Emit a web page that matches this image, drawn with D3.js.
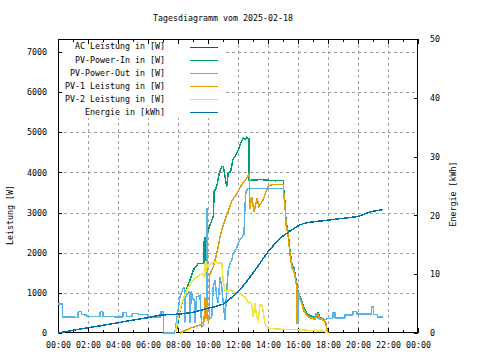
<!DOCTYPE html>
<html>
<head>
<meta charset="utf-8">
<script src="https://cdn.jsdelivr.net/npm/d3@7"></script>
<style>
  body { margin: 0; background: #fff; }
  svg { display: block; font-family: "DejaVu Sans Mono", monospace; font-size: 8.3px; }
</style>
</head>
<body>
<script>
// date of the diagram, all samples are "HH:MM" on that day
const day = "2025-02-18";

const leftTicks = [0, 1000, 2000, 3000, 4000, 5000, 6000, 7000];
const rightTicks = [0, 10, 20, 30, 40, 50];

// PV-Power-Out [W]
const pvOut = [
  ["00:00", 720], ["00:17", 720], ["00:18", 400], ["01:20", 390], ["01:21", 530], ["01:33", 530],
  ["01:34", 460], ["01:55", 450], ["01:56", 410], ["02:48", 410], ["02:49", 530], ["02:59", 530],
  ["03:00", 410], ["04:19", 400], ["04:20", 510], ["04:34", 510], ["04:35", 410], ["04:56", 410],
  ["04:57", 480], ["05:20", 480], ["05:28", 460], ["06:00", 460], ["06:01", 400], ["06:51", 400],
  ["06:52", 520], ["07:01", 520], ["07:02", 0], ["07:47", 0], ["07:50", 120], ["08:08", 900],
  ["08:21", 1120], ["08:26", 1120], ["08:27", 240], ["08:30", 900], ["08:45", 1030], ["08:47", 1030],
  ["08:48", 240], ["08:53", 1030], ["09:01", 820], ["09:07", 820], ["09:08", 240], ["09:15", 900],
  ["09:28", 940], ["09:35", 160], ["09:41", 200], ["09:48", 570], ["09:54", 600], ["09:55", 3100],
  ["09:57", 3100], ["09:59", 320], ["10:15", 400], ["10:21", 1150], ["10:28", 1320], ["10:35", 900],
  ["10:41", 740], ["10:48", 1400], ["10:55", 1150], ["11:01", 740], ["11:08", 320], ["11:15", 1070],
  ["11:21", 1570], ["11:28", 1730], ["11:35", 1820], ["11:41", 1990], ["11:52", 2070], ["12:01", 2240],
  ["12:08", 2320], ["12:24", 2450], ["12:28", 3180], ["12:32", 3530], ["12:41", 3600], ["15:01", 3600],
  ["15:03", 3480], ["15:08", 3220], ["15:12", 2730], ["15:20", 2490], ["15:28", 1990], ["15:36", 1650],
  ["15:44", 1570], ["15:51", 1320], ["15:56", 1150], ["16:00", 990], ["16:01", 280], ["16:02", 280],
  ["16:03", 990], ["16:08", 860], ["16:16", 740], ["16:24", 570], ["16:36", 450], ["16:48", 400],
  ["17:08", 365], ["17:12", 490], ["17:20", 490], ["17:21", 370], ["17:48", 330], ["18:00", 365],
  ["18:19", 365], ["18:20", 500], ["18:28", 500], ["18:29", 370], ["19:07", 370], ["19:08", 450],
  ["19:39", 450], ["19:40", 530], ["19:55", 530], ["19:56", 470], ["20:53", 470], ["20:54", 650],
  ["21:02", 650], ["21:03", 460], ["21:18", 460], ["21:19", 400], ["21:39", 400]
];

// AC Leistung [W] - runs underneath PV-Power-Out in the reference
const acPower = pvOut;

// PV-Power-In [W]
const pvIn = [
  ["07:48", 0], ["07:56", 120], ["08:08", 570], ["08:28", 990], ["08:48", 1320], ["09:01", 1570],
  ["09:21", 1730], ["09:43", 1730], ["09:44", 2300], ["09:46", 1750], ["09:48", 2400], ["09:50", 1800],
  ["09:52", 2400], ["09:54", 1850], ["09:56", 2450], ["10:01", 2560], ["10:08", 2690], ["10:21", 2900],
  ["10:25", 3520], ["10:35", 3650], ["10:45", 3980], ["10:55", 4150], ["11:01", 4150], ["11:08", 3900],
  ["11:15", 3650], ["11:21", 3980], ["11:31", 4020], ["11:39", 4310], ["11:48", 4400], ["12:01", 4560],
  ["12:15", 4790], ["12:21", 4850], ["12:28", 4810], ["12:35", 4870], ["12:44", 4830], ["12:45", 3800],
  ["13:30", 3820], ["14:30", 3790], ["15:01", 3800], ["15:03", 3550], ["15:08", 3270], ["15:12", 2780],
  ["15:20", 2540], ["15:28", 2040], ["15:36", 1700], ["15:44", 1620], ["15:51", 1370], ["15:56", 1200],
  ["16:00", 1040], ["16:08", 900], ["16:16", 790], ["16:24", 620], ["16:36", 490], ["16:48", 430],
  ["17:08", 390], ["17:20", 510], ["17:28", 390], ["17:45", 340], ["17:52", 220], ["17:56", 90],
  ["18:00", 0]
];

// PV-1 Leistung [W]
const pv1 = [
  ["08:08", 0], ["08:48", 120], ["09:28", 200], ["09:45", 280], ["09:46", 900], ["09:48", 350],
  ["09:50", 880], ["09:52", 360], ["09:54", 820], ["09:56", 400], ["10:01", 320], ["10:06", 380],
  ["10:07", 1450], ["10:21", 1650], ["10:32", 1900], ["10:41", 2150], ["10:48", 2390], ["10:55", 2570],
  ["11:08", 2820], ["11:21", 3030], ["11:35", 3280], ["11:48", 3400], ["11:57", 3480], ["12:08", 3620],
  ["12:21", 3750], ["12:32", 3830], ["12:45", 3960], ["12:48", 3100], ["12:55", 3390], ["12:59", 3230],
  ["13:04", 3020], ["13:12", 3230], ["13:17", 3350], ["13:23", 3150], ["13:28", 3190], ["13:41", 3320],
  ["13:52", 3520], ["14:01", 3650], ["14:08", 3680], ["14:21", 3700], ["15:01", 3700], ["15:03", 3450],
  ["15:08", 3180], ["15:12", 2700], ["15:20", 2460], ["15:28", 1960], ["15:36", 1620], ["15:44", 1540],
  ["15:51", 1290], ["15:56", 1120], ["15:57", 220], ["15:59", 950], ["16:08", 840], ["16:16", 720],
  ["16:24", 550], ["16:36", 430], ["16:48", 380], ["17:08", 340], ["17:20", 470], ["17:28", 350],
  ["17:45", 310], ["17:52", 200], ["17:56", 80], ["18:00", 0]
];

// PV-2 Leistung [W]
const pv2 = [
  ["07:50", 0], ["08:01", 400], ["08:15", 740], ["08:35", 1070], ["08:55", 1280], ["09:15", 1390],
  ["09:35", 1480], ["09:47", 1400], ["09:48", 1740], ["09:50", 1500], ["09:52", 1720], ["09:54", 1520],
  ["09:56", 1700], ["10:01", 1650], ["10:15", 1740], ["10:28", 1780], ["10:41", 1740], ["10:55", 1740],
  ["11:01", 1280], ["11:08", 1070], ["11:21", 1030], ["11:28", 1070], ["11:41", 1030], ["12:01", 990],
  ["12:15", 950], ["12:28", 900], ["12:35", 820], ["12:41", 740], ["12:48", 790], ["12:55", 700],
  ["13:01", 410], ["13:08", 740], ["13:15", 410], ["13:21", 320], ["13:28", 700], ["13:35", 700],
  ["13:41", 530], ["13:48", 240], ["13:55", 160], ["14:01", 115], ["15:00", 90], ["16:00", 80],
  ["17:00", 60], ["17:40", 50], ["18:00", 0]
];

// Energie [kWh]
const energy = [
  ["00:00", 0], ["01:00", 0.45], ["02:00", 0.9], ["03:00", 1.3], ["04:00", 1.75], ["05:00", 2.2],
  ["06:00", 2.6], ["06:48", 3.05], ["08:00", 3.2], ["09:00", 3.5], ["10:00", 4.2], ["10:30", 4.5],
  ["11:00", 4.9], ["11:20", 5.5], ["12:00", 7.0], ["12:30", 8.5], ["13:00", 10.2], ["13:30", 12.0],
  ["14:00", 13.8], ["14:30", 15.3], ["15:00", 16.5], ["15:30", 17.4], ["16:08", 18.4], ["16:30", 18.7],
  ["17:00", 18.9], ["18:00", 19.2], ["19:00", 19.5], ["20:00", 19.8], ["20:48", 20.6], ["21:39", 21.0]
];

const parseTime = d3.timeParse("%Y-%m-%d %H:%M");
const t = (hm) => parseTime(day + " " + hm);

const width = 480, height = 360;
const plot = { left: 58, right: 418, top: 39, bottom: 333 };

const svg = d3.select("body").append("svg")
  .attr("width", width)
  .attr("height", height);

svg.append("rect").attr("width", width).attr("height", height).attr("fill", "#fff");

const start = t("00:00");
const end = d3.timeDay.offset(start, 1);

const x = d3.scaleTime().domain([start, end]).range([plot.left, plot.right]);
const yW = d3.scaleLinear().domain([0, 7320]).range([plot.bottom, plot.top]);
const yE = d3.scaleLinear().domain([0, 50]).range([plot.bottom, plot.top]);

const majorHours = d3.timeHour.every(2).range(start, d3.timeMinute.offset(end, 1));
const minorHours = d3.timeHour.range(start, d3.timeMinute.offset(end, 1));

// grid
const grid = svg.append("g")
  .attr("stroke", "#a0a0a0")
  .attr("stroke-dasharray", "3,3")
  .attr("shape-rendering", "crispEdges");
grid.selectAll("line.v")
  .data(majorHours.slice(1, -1))
  .enter().append("line")
  .attr("x1", d => Math.round(x(d)) + 0.5).attr("x2", d => Math.round(x(d)) + 0.5)
  .attr("y1", plot.top).attr("y2", plot.bottom);
grid.selectAll("line.h")
  .data(leftTicks.slice(1))
  .enter().append("line")
  .attr("x1", plot.left).attr("x2", plot.right)
  .attr("y1", d => Math.round(yW(d)) + 0.5).attr("y2", d => Math.round(yW(d)) + 0.5);

// opaque key background
svg.append("rect")
  .attr("x", plot.left + 1).attr("y", plot.top + 1)
  .attr("width", 165).attr("height", 78)
  .attr("fill", "#fff");

const noDomain = g => g.select(".domain").remove();

// x axes (bottom with labels, top mirrored)
svg.append("g")
  .attr("transform", "translate(0," + plot.bottom + ")")
  .call(d3.axisBottom(x).tickValues(majorHours).tickFormat(d3.timeFormat("%H:%M")).tickSize(-5).tickPadding(9))
  .call(noDomain);
svg.append("g")
  .attr("transform", "translate(0," + plot.bottom + ")")
  .call(d3.axisBottom(x).tickValues(minorHours).tickFormat("").tickSize(-3))
  .call(noDomain);
svg.append("g")
  .attr("transform", "translate(0," + plot.top + ")")
  .call(d3.axisTop(x).tickValues(majorHours).tickFormat("").tickSize(-5))
  .call(noDomain);
svg.append("g")
  .attr("transform", "translate(0," + plot.top + ")")
  .call(d3.axisTop(x).tickValues(minorHours).tickFormat("").tickSize(-3))
  .call(noDomain);

// y axes
svg.append("g")
  .attr("transform", "translate(" + plot.left + ",0)")
  .call(d3.axisLeft(yW).tickValues(leftTicks).tickFormat(d3.format("d")).tickSize(-4).tickPadding(11))
  .call(noDomain);
svg.append("g")
  .attr("transform", "translate(" + plot.right + ",0)")
  .call(d3.axisRight(yE).tickValues(rightTicks).tickFormat(d3.format("d")).tickSize(-4).tickPadding(12))
  .call(noDomain);

svg.selectAll(".tick text").attr("font-family", "DejaVu Sans Mono, monospace").attr("font-size", "8.3px").attr("fill", "#000");
svg.selectAll(".tick line").attr("shape-rendering", "crispEdges");

// frame
svg.append("rect")
  .attr("x", plot.left + 0.5).attr("y", plot.top + 0.5)
  .attr("width", plot.right - plot.left - 1).attr("height", plot.bottom - plot.top - 1)
  .attr("fill", "none").attr("stroke", "#000");

// series
const series = [
  { name: "AC Leistung in [W]", data: acPower, color: "#9400d3", y: yW },
  { name: "PV-Power-In in [W]", data: pvIn, color: "#009e73", y: yW },
  { name: "PV-Power-Out in [W]", data: pvOut, color: "#56b4e9", y: yW },
  { name: "PV-1 Leistung in [W]", data: pv1, color: "#e69f00", y: yW },
  { name: "PV-2 Leistung in [W]", data: pv2, color: "#f0e442", y: yW },
  { name: "Energie in [kWh]", data: energy, color: "#0072b2", y: yE }
];

// crisp (non antialiased) strokes, like the bitmap original
const lines = svg.append("g")
  .attr("fill", "none")
  .attr("stroke-width", 1.5)
  .attr("shape-rendering", "crispEdges");
series.forEach(s => {
  lines.append("path")
    .datum(s.data)
    .attr("stroke", s.color)
    .attr("d", d3.line().x(d => x(t(d[0]))).y(d => s.y(d[1])));
});

// key
const key = svg.append("g");
series.forEach((s, i) => {
  const cy = 46.5 + i * 13.1;
  key.append("text")
    .attr("x", 165).attr("y", cy)
    .attr("dy", "0.35em")
    .attr("text-anchor", "end")
    .text(s.name);
  key.append("line")
    .attr("x1", 190).attr("x2", 218)
    .attr("y1", Math.round(cy) + 0.5).attr("y2", Math.round(cy) + 0.5)
    .attr("stroke", s.color).attr("stroke-width", 1)
    .attr("shape-rendering", "crispEdges");
});

// titles
svg.append("text")
  .attr("x", 223).attr("y", 20.5)
  .attr("text-anchor", "middle")
  .text("Tagesdiagramm vom " + day);

svg.append("text")
  .attr("transform", "translate(13,215) rotate(-90)")
  .attr("text-anchor", "middle")
  .text("Leistung [W]");

svg.append("text")
  .attr("transform", "translate(456,194) rotate(-90)")
  .attr("text-anchor", "middle")
  .text("Energie [kWh]");
</script>
</body>
</html>
